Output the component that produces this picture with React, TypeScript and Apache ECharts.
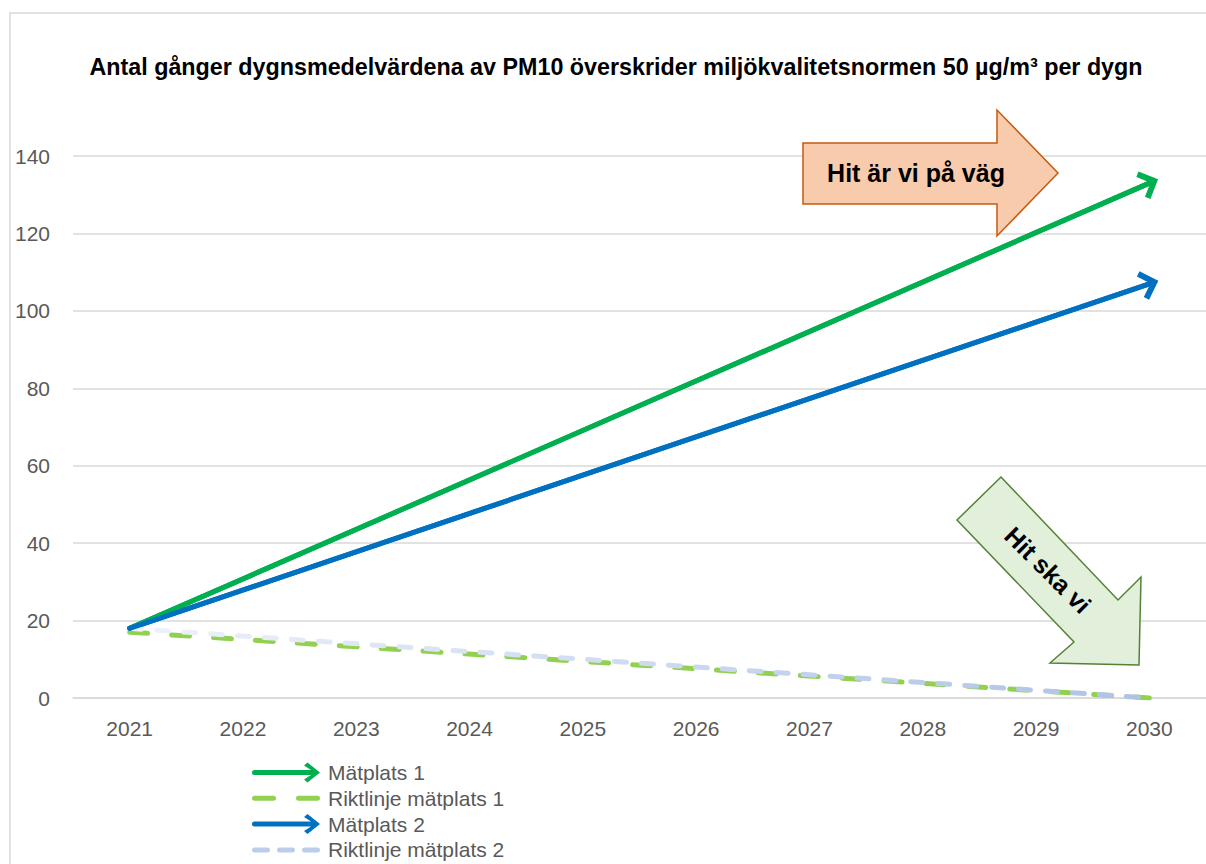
import React, { useEffect, useRef } from 'react';
import * as echarts from 'echarts';

const years = ['2021', '2022', '2023', '2024', '2025', '2026', '2027', '2028', '2029', '2030'];
const matplats1: (number | null)[] = [18, null, null, null, null, null, null, null, null, 133];
const riktlinje1: (number | null)[] = [17, null, null, null, null, null, null, null, null, 0];
const matplats2: (number | null)[] = [18, null, null, null, null, null, null, null, null, 107];
const riktlinje2: (number | null)[] = [18, null, null, null, null, null, null, null, null, 0];
const seriesNames = ['Mätplats 1', 'Riktlinje mätplats 1', 'Mätplats 2', 'Riktlinje mätplats 2'];
const yMin = 0;
const yMax = 140;
const yInterval = 20;
const titleText = 'Antal gånger dygnsmedelvärdena av PM10 överskrider miljökvalitetsnormen 50 µg/m³ per dygn';
const upText = 'Hit är vi på väg';
const downText = 'Hit ska vi';

const FONT = '"Liberation Sans", Arial, sans-serif';
const GREEN = '#00B050';
const BLUE = '#0070C0';
const LGREEN = '#92D050';
const LBLUE = '#BCCDEA';
const CHEVRON = 'path://M50,0 L100,50 L86,64 L50,28 L14,64 L0,50 Z';
const LEGEND_ARROW =
  'path://M2.5,7.5 L59,7.5 L52,3 L55.5,0 L68,10 L55.5,20 L52,17 L59,12.5 L2.5,12.5 A2.5,2.5 0 0 1 2.5,7.5 Z';
function dashPath(starts: number[], len: number) {
  return (
    'path://' +
    starts
      .map(
        (s) =>
          `M${s + 2.5},0 L${s + len - 2.5},0 A2.5,2.5 0 0 1 ${s + len - 2.5},5 L${s + 2.5},5 A2.5,2.5 0 0 1 ${s + 2.5},0 Z`
      )
      .join(' ')
  );
}
const LEGEND_DASH_GREEN = dashPath([0, 44], 24);
const LEGEND_DASH_BLUE = dashPath([0, 25, 50], 18);

function lastIndex(arr: (number | null)[]) {
  for (let i = arr.length - 1; i >= 0; i--) if (arr[i] != null) return i;
  return 0;
}

function arrowMark(arr: (number | null)[], color: string) {
  const li = lastIndex(arr);
  return {
    silent: true,
    animation: false,
    symbol: ['none', CHEVRON],
    symbolSize: [30, 19],
    label: { show: false },
    emphasis: { disabled: true },
    lineStyle: { color, width: 5, type: 'solid', cap: 'round', opacity: 1 },
    data: [[{ coord: [years[0], arr[0]] }, { coord: [years[li], arr[li]] }]],
  };
}

export default function App() {
  const ref = useRef<HTMLDivElement>(null);
  useEffect(() => {
    if (!ref.current) return;
    const chart = echarts.init(ref.current, undefined, { renderer: 'svg' });
    const lightBlue = new echarts.graphic.LinearGradient(0, 0, 1, 0, [
      { offset: 0, color: '#EEF2FA' },
      { offset: 1, color: '#ADC2E6' },
    ]);
    chart.setOption({
      animation: false,
      backgroundColor: '#ffffff',
      title: {
        text: titleText,
        left: 616,
        top: 55,
        padding: 0,
        textAlign: 'center',
        textStyle: { fontFamily: FONT, fontSize: 23.3, fontWeight: 'bold', color: '#000000' },
      },
      grid: { left: 73, right: -7, top: 156, bottom: 166, containLabel: false },
      legend: {
        orient: 'vertical',
        left: 252,
        top: 762,
        height: 102,
        padding: 0,
        itemWidth: 68,
        itemHeight: 20,
        itemGap: 4.8,
        symbolKeepAspect: true,
        textStyle: {
          fontFamily: FONT,
          fontSize: 21,
          lineHeight: 20,
          color: '#595959',
          padding: [0, 0, 0, 3],
        },
        data: [
          { name: seriesNames[0], icon: LEGEND_ARROW, itemStyle: { color: GREEN } },
          { name: seriesNames[1], icon: LEGEND_DASH_GREEN, itemStyle: { color: LGREEN } },
          { name: seriesNames[2], icon: LEGEND_ARROW, itemStyle: { color: BLUE } },
          { name: seriesNames[3], icon: LEGEND_DASH_BLUE, itemStyle: { color: LBLUE } },
        ],
      },
      xAxis: {
        type: 'category',
        data: years,
        boundaryGap: true,
        axisLine: { show: true, lineStyle: { color: '#D9D9D9', width: 1.5 } },
        axisTick: { show: false },
        axisLabel: { color: '#595959', fontFamily: FONT, fontSize: 21, margin: 20 },
      },
      yAxis: {
        type: 'value',
        min: yMin,
        max: yMax,
        interval: yInterval,
        axisLine: { show: false },
        axisTick: { show: false },
        axisLabel: { color: '#595959', fontFamily: FONT, fontSize: 21, margin: 23 },
        splitLine: { lineStyle: { color: '#D9D9D9', width: 1.5 } },
      },
      series: [
        {
          name: seriesNames[0],
          type: 'line',
          data: matplats1,
          connectNulls: true,
          symbol: 'none',
          color: GREEN,
          lineStyle: { color: GREEN, width: 5, cap: 'round' },
          markLine: arrowMark(matplats1, GREEN),
        },
        {
          name: seriesNames[1],
          type: 'line',
          data: riktlinje1,
          connectNulls: true,
          symbol: 'none',
          color: LGREEN,
          lineStyle: { color: LGREEN, width: 5, type: [18, 24], cap: 'round' },
        },
        {
          name: seriesNames[2],
          type: 'line',
          data: matplats2,
          connectNulls: true,
          symbol: 'none',
          color: BLUE,
          lineStyle: { color: BLUE, width: 5, cap: 'round' },
          markLine: arrowMark(matplats2, BLUE),
        },
        {
          name: seriesNames[3],
          type: 'line',
          data: riktlinje2,
          connectNulls: true,
          symbol: 'none',
          color: LBLUE,
          lineStyle: { color: lightBlue, width: 5, type: [12, 15], cap: 'round' },
        },
      ],
      graphic: [
        {
          type: 'rect',
          silent: true,
          shape: { x: 10, y: 13, width: 1300, height: 900 },
          style: { fill: 'none', stroke: '#D9D9D9', lineWidth: 1.5 },
          z: -1,
        },
        {
          type: 'polygon',
          z: 10,
          shape: {
            points: [
              [803, 143], [997, 143], [997, 110], [1058, 173], [997, 236], [997, 204], [803, 204],
            ],
          },
          style: { fill: '#F8CBAD', stroke: '#C55A11', lineWidth: 1.5 },
        },
        {
          type: 'text',
          z: 11,
          x: 916,
          y: 173,
          style: {
            text: upText,
            fontFamily: FONT,
            fontSize: 25,
            fontWeight: 'bold',
            fill: '#000000',
            align: 'center',
            verticalAlign: 'middle',
          },
        },
        {
          type: 'polygon',
          z: 10,
          shape: {
            points: [
              [1001, 477], [1118, 600], [1141, 577], [1139, 665], [1050, 663], [1074, 642], [957, 520],
            ],
          },
          style: { fill: '#E2EFDA', stroke: '#548235', lineWidth: 1.5 },
        },
        {
          type: 'text',
          z: 11,
          x: 1048,
          y: 570,
          rotation: -Math.PI / 4,
          style: {
            text: downText,
            fontFamily: FONT,
            fontSize: 25,
            fontWeight: 'bold',
            fill: '#000000',
            align: 'center',
            verticalAlign: 'middle',
          },
        },
      ],
    });
    return () => chart.dispose();
  }, []);
  return (
    <div
      ref={ref}
      style={{ position: 'fixed', left: 0, top: 0, width: 1206, height: 864, background: '#fff' }}
    />
  );
}
